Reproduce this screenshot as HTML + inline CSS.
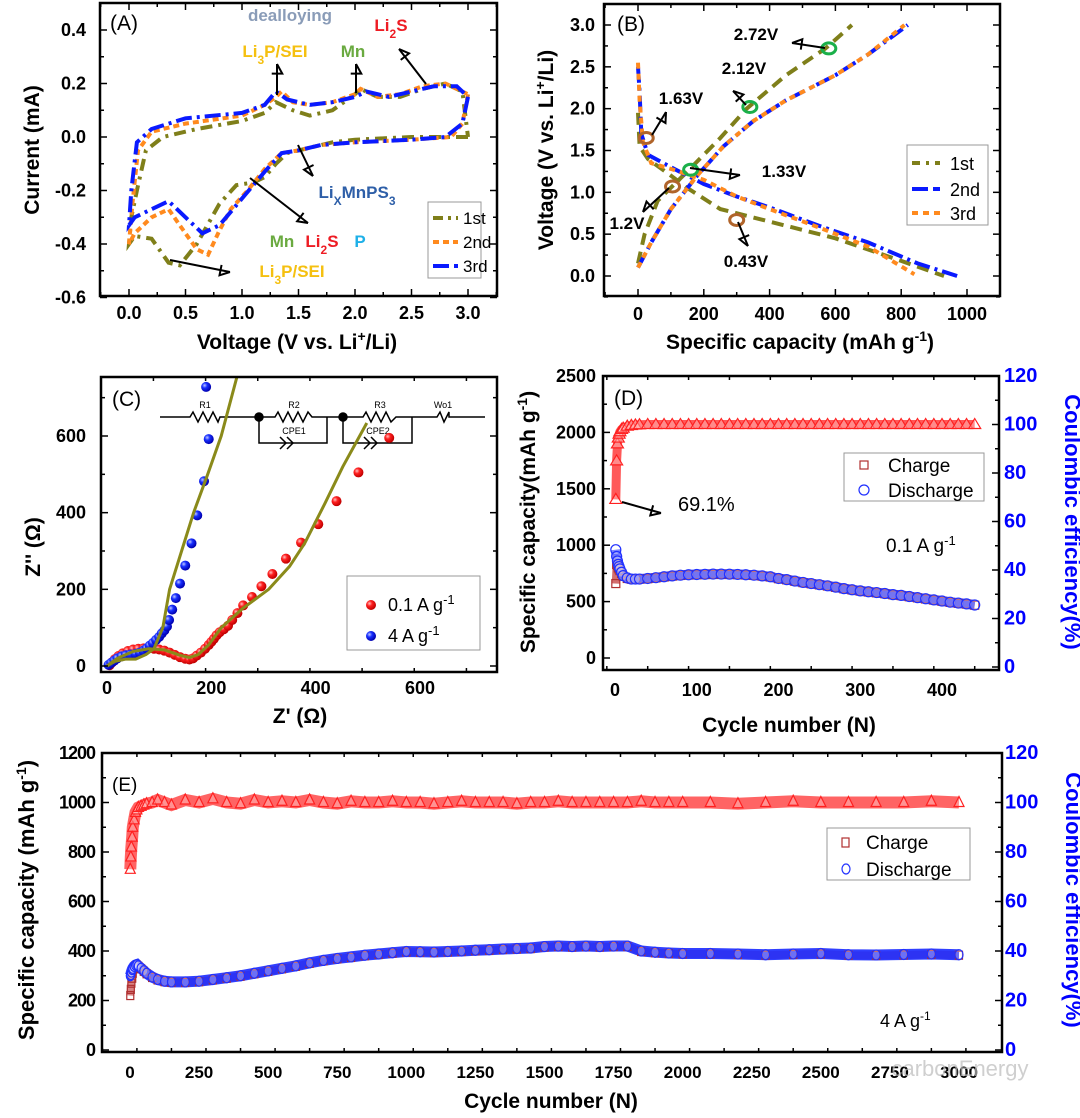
<!DOCTYPE html>
<html><head><meta charset="utf-8">
<style>
html,body{margin:0;padding:0;background:#fff;}
svg{display:block;font-family:"Liberation Sans",Arial,sans-serif;}
</style></head>
<body>
<svg id="fig" width="1080" height="1118" viewBox="0 0 1080 1118" xmlns="http://www.w3.org/2000/svg">
<defs>
<radialGradient id="gRed" cx="35%" cy="35%" r="65%"><stop offset="0" stop-color="#ffc0c0"/><stop offset="0.4" stop-color="#ff2020"/><stop offset="1" stop-color="#c00000"/></radialGradient>
<radialGradient id="gBlue" cx="35%" cy="35%" r="65%"><stop offset="0" stop-color="#c0c8ff"/><stop offset="0.4" stop-color="#1830ff"/><stop offset="1" stop-color="#0000b0"/></radialGradient>
<clipPath id="clipA"><rect x="100" y="3" width="397" height="293"/></clipPath>
<clipPath id="clipB"><rect x="604" y="4" width="396" height="292"/></clipPath>
<clipPath id="clipC"><rect x="101" y="377" width="396" height="295"/></clipPath>
<clipPath id="clipD"><rect x="603" y="376" width="396" height="294"/></clipPath>
<clipPath id="clipE"><rect x="102" y="753" width="900" height="299"/></clipPath>
</defs>
</svg>
<script>
// ---------- Panel A data (CV) ----------
const cv1V = [3.0,2.5,2.0,1.8,1.6,1.4,1.3,1.2,1.1,0.95,0.8,0.6,0.45,0.35,0.2,0.05,0.0,0.02,0.07,0.15,0.3,0.6,1.0,1.2,1.3,1.35,1.45,1.6,1.8,2.0,2.05,2.2,2.4,2.6,2.8,2.95,3.0];
const cv1I = [0.0,0.0,-0.01,-0.02,-0.04,-0.06,-0.1,-0.15,-0.17,-0.18,-0.25,-0.4,-0.48,-0.47,-0.38,-0.37,-0.4,-0.3,-0.2,-0.05,0.0,0.03,0.06,0.09,0.13,0.12,0.1,0.08,0.1,0.16,0.18,0.15,0.15,0.18,0.2,0.17,0.0];
const cv2V = [3.0,2.95,2.85,2.5,2.0,1.7,1.5,1.35,1.2,1.05,0.9,0.8,0.7,0.6,0.45,0.35,0.2,0.05,0.0,0.03,0.08,0.2,0.5,1.0,1.2,1.3,1.35,1.45,1.6,1.8,2.0,2.05,2.2,2.4,2.6,2.8,3.0];
const cv2I = [0.16,0.05,0.0,-0.01,-0.02,-0.03,-0.05,-0.06,-0.12,-0.2,-0.27,-0.35,-0.44,-0.42,-0.33,-0.27,-0.3,-0.36,-0.4,-0.25,-0.05,0.02,0.05,0.08,0.12,0.15,0.17,0.13,0.12,0.13,0.16,0.18,0.15,0.16,0.19,0.2,0.16];
const cv3V = [3.0,2.95,2.8,2.5,2.0,1.7,1.5,1.35,1.2,1.0,0.8,0.65,0.5,0.35,0.2,0.05,0.0,0.02,0.07,0.2,0.5,1.0,1.2,1.3,1.4,1.6,1.8,2.0,2.1,2.3,2.5,2.7,2.9,3.0];
const cv3I = [0.15,0.05,0.0,-0.01,-0.02,-0.03,-0.05,-0.06,-0.13,-0.23,-0.33,-0.36,-0.3,-0.24,-0.27,-0.3,-0.33,-0.2,-0.02,0.03,0.07,0.09,0.12,0.17,0.14,0.12,0.13,0.15,0.17,0.15,0.17,0.19,0.19,0.15];
// ---------- Panel B data (GCD) ----------
const d1Cap = [0,5,30,100,150,250,400,600,800,930];
const d1V = [1.95,1.55,1.4,1.2,1.05,0.8,0.65,0.45,0.18,0.0];
const c1Cap = [0,20,60,150,250,330,450,570,650];
const c1V = [0.15,0.5,0.9,1.25,1.65,2.0,2.4,2.72,3.0];
const d2Cap = [0,5,10,30,100,200,300,400,550,700,850,970];
const d2V = [2.5,2.2,1.7,1.45,1.3,1.1,0.95,0.82,0.6,0.4,0.15,0.0];
const c2Cap = [0,40,100,180,260,350,450,600,700,820];
const c2V = [0.1,0.4,0.8,1.2,1.55,1.85,2.1,2.4,2.65,3.0];
const d3Cap = [0,5,15,40,100,200,300,400,550,700,840];
const d3V = [2.55,2.1,1.6,1.35,1.28,1.15,0.95,0.8,0.58,0.35,0.02];
const c3Cap = [0,40,100,180,260,350,450,600,700,810];
const c3V = [0.1,0.4,0.8,1.2,1.55,1.85,2.1,2.4,2.65,3.0];
const greenCap = [160,340,580];
const greenV = [1.27,2.02,2.72];
const brownCap = [25,105,300];
const brownV = [1.65,1.07,0.67];
// ---------- Panel C data (EIS) ----------
const redZr = [5,10,15,22,30,40,50,60,70,80,90,100,110,120,130,140,150,158,165,172,180,188,195,200,205,210,216,224,232,240,250,261,278,296,317,343,372,405,440,482,541];
const redZi = [2,10,18,26,33,39,43,45,46,46,45,43,40,35,29,23,19,17,20,27,35,45,55,63,71,80,88,96,105,120,138,158,180,208,240,280,322,370,430,505,595];
const blueZr = [3,8,14,20,28,36,45,55,63,70,76,82,88,94,100,105,110,115,119,125,132,140,150,162,173,186,195,190];
const blueZi = [3,8,14,20,25,28,30,32,35,40,46,53,60,68,76,85,93,103,120,147,177,215,262,320,393,482,592,728];
const fitBlueZr = [0,15,35,55,75,90,107,120,143,166,193,219,249];
const fitBlueZi = [0,12,18,18,30,45,100,200,300,400,500,600,754];
const fitRedZr = [0,20,50,80,110,140,158,175,195,219,260,310,350,379,418,452,498];
const fitRedZi = [0,20,38,45,42,28,22,30,55,100,150,200,260,320,425,520,634];
// ---------- Panel D data ----------
const cyclesD = [1,2,3,4,5,6,8,10,15,20,25,30,40,50,60,70,80,90,100,110,120,130,140,150,160,170,180,190,200,210,220,230,240,250,260,270,280,290,300,310,320,330,340,350,360,370,380,390,400,410,420,430,440];
const dischargeD = [960,900,860,830,810,790,760,730,710,700,700,700,705,712,720,728,734,738,740,742,744,744,743,741,738,734,728,720,705,695,682,670,660,650,640,628,615,605,595,587,580,572,562,555,545,535,525,515,505,495,487,480,470];
const chargeD = [660,830,820,800,790,775,750,725,705,698,698,700,703,710,718,726,732,736,738,740,742,742,741,739,736,732,726,718,703,693,680,668,658,648,638,626,613,603,593,585,578,570,560,553,543,533,523,513,503,493,485,478,468];
const ceD = [69.1,85,92,94.4,96,97,98,98.5,99.3,99.6,99.8,99.9,100,100,100,100,100,100,100,100,100,100,100,100,100,100,100,100,100,100,100,100,100,100,100,100,100,100,100,100,100,100,100,100,100,100,100,100,100,100,100,100,100];
// ---------- Panel E data ----------
const cyclesE = [1,3,5,8,10,15,20,25,30,40,50,60,80,100,125,150,200,250,300,350,400,450,500,550,600,650,700,750,800,850,900,950,1000,1050,1100,1150,1200,1250,1300,1350,1400,1450,1500,1550,1600,1650,1700,1750,1800,1850,1900,1950,2000,2100,2200,2300,2400,2500,2600,2700,2800,2900,3000];
const dischargeE = [300,305,315,325,330,338,343,345,340,330,320,310,295,285,278,275,275,278,285,292,300,310,320,330,340,352,362,370,376,383,388,393,398,397,396,398,400,403,405,408,410,412,418,420,418,420,418,420,420,400,395,392,390,390,388,385,388,390,385,384,386,388,385];
const chargeE = [220,245,270,290,310,330,340,343,338,328,318,308,293,283,276,273,273,276,283,290,298,308,318,328,338,350,360,368,374,381,386,391,396,395,394,396,398,401,403,406,408,410,416,418,416,418,416,418,418,398,393,390,388,388,386,383,386,388,383,382,384,386,383];
const ceE = [73,78,82,86,90,93,96,97,98,98.5,99,99.5,100,101,100,99,101,100,101.5,100,99.5,101,100,100.5,100,101,100,99.5,100.5,100,100,100.5,100,100,99.5,100,100.5,100,100,100,99.5,100,100,100.5,100,100,100,100,100,100.5,100,100,100,100,99.5,100,100.5,100,100,100,100,100.5,100];

// ---------- helpers ----------
const NS = 'http://www.w3.org/2000/svg';
const svg = document.getElementById('fig');
function mk(tag, attrs, name, parent){
  const el = document.createElementNS(NS, tag);
  for (const k in attrs) el.setAttribute(k, attrs[k]);
  
  
  (parent || svg).appendChild(el);
  return el;
}
function T(x, y, html, attrs, name, parent){
  const a = Object.assign({x:x, y:y, 'text-anchor':'middle', 'font-size':18, 'font-weight':'bold', fill:'#000'}, attrs || {});
  const el = mk('text', a, name, parent);
  el.innerHTML = html;
  return el;
}
function lin(d0, d1, p0, p1){ return v => p0 + (v - d0) * (p1 - p0) / (d1 - d0); }
function pts(xs, ys, fx, fy){ const n = Math.min(xs.length, ys.length); let s=''; for(let i=0;i<n;i++) s += fx(xs[i]).toFixed(1)+','+fy(ys[i]).toFixed(1)+' '; return s; }
function arrow(x1,y1,x2,y2,name){
  const g = mk('g', {}, name);
  mk('line', {x1:x1,y1:y1,x2:x2,y2:y2,stroke:'#000','stroke-width':2}, 'arrow-shaft', g);
  const a = Math.atan2(y2-y1, x2-x1), L=11, W=0.5;
  const p = `${x2},${y2} ${x2-L*Math.cos(a-W)},${y2-L*Math.sin(a-W)} ${x2-L*Math.cos(a+W)},${y2-L*Math.sin(a+W)}`;
  mk('polyline', {points:p, fill:'none', stroke:'#000','stroke-width':2}, 'arrow-head', g);
}
function box(x0,y0,x1,y1,name){
  mk('rect', {x:x0,y:y0,width:x1-x0,height:y1-y0,fill:'none',stroke:'#000','stroke-width':2.5}, name);
}
function xTicks(fx, y0, y1, lo, hi, major, minor, labels, ly, name, fs){
  const g = mk('g', {}, name);
  for (let v=lo; v<=hi+1e-9; v+=minor){
    const isMaj = Math.abs(v/major - Math.round(v/major)) < 1e-6;
    const L = isMaj ? 7 : 4, x = fx(v);
    mk('line', {x1:x,x2:x,y1:y1,y2:y1-L,stroke:'#000','stroke-width':1.5}, 'x-tick', g);
    mk('line', {x1:x,x2:x,y1:y0,y2:y0+L,stroke:'#000','stroke-width':1.5}, 'x-tick-top', g);
  }
  labels.forEach(l => T(fx(l.v), ly, l.t, {'font-size':fs||18}, 'x-tick-label', g));
}
function yTicks(fy, x0, x1, lo, hi, major, minor, side, name){
  const g = mk('g', {}, name);
  for (let v=lo; v<=hi+1e-9; v+=minor){
    const isMaj = Math.abs(v/major - Math.round(v/major)) < 1e-6;
    const L = isMaj ? 7 : 4, y = fy(v);
    if (side !== 'right') mk('line', {x1:x0,x2:x0+L,y1:y,y2:y,stroke:'#000','stroke-width':1.5}, 'y-tick', g);
    if (side !== 'left') mk('line', {x1:x1,x2:x1-L,y1:y,y2:y,stroke:'#000','stroke-width':1.5}, 'y-tick-right', g);
  }
}
function yLabels(fy, vals, texts, x, anchor, attrs, name){
  const g = mk('g', {}, name);
  vals.forEach((v,i) => T(x, fy(v)+6, texts[i], Object.assign({'text-anchor':anchor}, attrs||{}), 'y-tick-label', g));
}

// ================= Panel A =================
const xA = lin(0,3,129,468), yA = lin(0,0.4,137,30);
const gA = mk('g', {'clip-path':'url(#clipA)'}, 'panel-a-plot');
mk('polyline', {points:pts(cv1V,cv1I,xA,yA), fill:'none', stroke:'#7f7f1a','stroke-width':4,'stroke-dasharray':'12,6,3,6'}, 'cv-cycle-1', gA);
mk('polyline', {points:pts(cv2V,cv2I,xA,yA), fill:'none', stroke:'#ff8a1e','stroke-width':4,'stroke-dasharray':'6,4'}, 'cv-cycle-2', gA);
mk('polyline', {points:pts(cv3V,cv3I,xA,yA), fill:'none', stroke:'#0a1aff','stroke-width':4,'stroke-dasharray':'16,5,3,5'}, 'cv-cycle-3', gA);
box(100,3,497,296,'panel-a-frame');
xTicks(xA, 3, 296, -0.25, 3.25, 0.5, 0.25, [0,0.5,1,1.5,2,2.5,3].map(v=>({v:v,t:v.toFixed(1)})), 319, 'panel-a-x-axis');
yTicks(yA, 100, 497, -0.6, 0.5, 0.2, 0.1, 'both', 'panel-a-y-ticks');
yLabels(yA, [0.4,0.2,0,-0.2,-0.4,-0.6], ['0.4','0.2','0.0','-0.2','-0.4','-0.6'], 86, 'end', {}, 'panel-a-y-labels');
T(297, 349, 'Voltage (V vs. Li<tspan baseline-shift="super" font-size="14">+</tspan>/Li)', {'font-size':21}, 'panel-a-x-title');
T(0, 0, 'Current (mA)', {'font-size':21, transform:'translate(39,150) rotate(-90)'}, 'panel-a-y-title');
T(110, 30, '(A)', {'font-weight':'normal','font-size':21,'text-anchor':'start'}, 'panel-a-label');
T(290, 21, 'dealloying', {fill:'#8a9cb8','font-size':17}, 'annot-dealloying');
T(391, 31, 'Li<tspan baseline-shift="sub" font-size="12">2</tspan>S', {fill:'#ee1c24','font-size':17}, 'annot-li2s-top');
T(275, 57, 'Li<tspan baseline-shift="sub" font-size="12">3</tspan>P/SEI', {fill:'#f5c010','font-size':17}, 'annot-li3p-top');
T(353, 57, 'Mn', {fill:'#6aaa40','font-size':17}, 'annot-mn-top');
arrow(277,95,277,64,'arrow-li3p-top');
arrow(356,93,356,64,'arrow-mn-top');
arrow(426,84,399,49,'arrow-li2s-top');
T(357, 198, 'Li<tspan baseline-shift="sub" font-size="12">X</tspan>MnPS<tspan baseline-shift="sub" font-size="12">3</tspan>', {fill:'#2e5fa8','font-size':17}, 'annot-lixmnps3');
arrow(298,145,313,176,'arrow-lixmnps3');
arrow(250,178,308,223,'arrow-mn-li2s-p');
T(282, 247, 'Mn', {fill:'#6aaa40','font-size':17}, 'annot-mn-bottom');
T(322, 247, 'Li<tspan baseline-shift="sub" font-size="12">2</tspan>S', {fill:'#ee1c24','font-size':17}, 'annot-li2s-bottom');
T(360, 247, 'P', {fill:'#1eb0e8','font-size':17}, 'annot-p');
arrow(170,260,230,272,'arrow-li3p-bottom');
T(292, 277, 'Li<tspan baseline-shift="sub" font-size="12">3</tspan>P/SEI', {fill:'#f5c010','font-size':17}, 'annot-li3p-bottom');
mk('rect', {x:428,y:202,width:53,height:76,fill:'#fff',stroke:'#999','stroke-width':1}, 'panel-a-legend-box');
const lgA = mk('g', {}, 'panel-a-legend');
[['#7f7f1a','10,5,3,5','1st',218],['#ff8a1e','6,4','2nd',242],['#0a1aff','16,5','3rd',266]].forEach(r=>{
  mk('line', {x1:433,x2:458,y1:r[3],y2:r[3],stroke:r[0],'stroke-width':4,'stroke-dasharray':r[1]}, 'legend-swatch', lgA);
  T(463, r[3]+6, r[2], {'text-anchor':'start','font-weight':'normal','font-size':17}, 'legend-label', lgA);
});

// ================= Panel B =================
const xB = lin(0,1000,638,967), yB = lin(0,3,276,25);
const gB = mk('g', {'clip-path':'url(#clipB)'}, 'panel-b-plot');
const ol = {stroke:'#7f7f1a','stroke-width':4,'stroke-dasharray':'12,7',fill:'none'};
const bl = {stroke:'#0a1aff','stroke-width':4,'stroke-dasharray':'16,5,3,5',fill:'none'};
const orr = {stroke:'#ff8a1e','stroke-width':4,'stroke-dasharray':'6,5',fill:'none'};
mk('polyline', Object.assign({points:pts(d1Cap,d1V,xB,yB)}, ol), 'discharge-1st', gB);
mk('polyline', Object.assign({points:pts(c1Cap,c1V,xB,yB)}, ol), 'charge-1st', gB);
mk('polyline', Object.assign({points:pts(d2Cap,d2V,xB,yB)}, bl), 'discharge-2nd', gB);
mk('polyline', Object.assign({points:pts(c2Cap,c2V,xB,yB)}, bl), 'charge-2nd', gB);
mk('polyline', Object.assign({points:pts(d3Cap,d3V,xB,yB)}, orr), 'discharge-3rd', gB);
mk('polyline', Object.assign({points:pts(c3Cap,c3V,xB,yB)}, orr), 'charge-3rd', gB);
greenCap.forEach((c,i)=>mk('ellipse', {cx:xB(c),cy:yB(greenV[i]),rx:7,ry:5.5,fill:'none',stroke:'#1ab04a','stroke-width':3}, 'marker-green', gB));
brownCap.forEach((c,i)=>mk('ellipse', {cx:xB(c),cy:yB(brownV[i]),rx:7,ry:5.5,fill:'none',stroke:'#b0642a','stroke-width':3}, 'marker-brown', gB));
box(604,4,1000,296,'panel-b-frame');
xTicks(xB, 4, 296, -100, 1000, 200, 100, [0,200,400,600,800,1000].map(v=>({v:v,t:String(v)})), 320, 'panel-b-x-axis');
yTicks(yB, 604, 1000, -0.25, 3.25, 0.5, 0.25, 'both', 'panel-b-y-ticks');
yLabels(yB, [3,2.5,2,1.5,1,0.5,0], ['3.0','2.5','2.0','1.5','1.0','0.5','0.0'], 595, 'end', {}, 'panel-b-y-labels');
T(800, 349, 'Specific capacity (mAh  g<tspan baseline-shift="super" font-size="14">-1</tspan>)', {'font-size':21}, 'panel-b-x-title');
T(0, 0, 'Voltage (V vs. Li<tspan baseline-shift="super" font-size="14">+</tspan>/Li)', {'font-size':21, transform:'translate(553,150) rotate(-90)'}, 'panel-b-y-title');
T(617, 31, '(B)', {'font-weight':'normal','font-size':21,'text-anchor':'start'}, 'panel-b-label');
T(756, 40, '2.72V', {'font-size':17}, 'annot-2-72v');
arrow(825,48,792,43,'arrow-2-72v');
T(744, 74, '2.12V', {'font-size':17}, 'annot-2-12v');
arrow(746,105,733,91,'arrow-2-12v');
T(681, 104, '1.63V', {'font-size':17}, 'annot-1-63v');
arrow(652,135,666,112,'arrow-1-63v');
T(784, 177, '1.33V', {'font-size':17}, 'annot-1-33v');
arrow(690,168,740,175,'arrow-1-33v');
T(627, 229, '1.2V', {'font-size':17}, 'annot-1-2v');
arrow(669,188,643,212,'arrow-1-2v');
T(746, 267, '0.43V', {'font-size':17}, 'annot-0-43v');
arrow(738,222,748,246,'arrow-0-43v');
mk('rect', {x:907,y:145,width:81,height:80,fill:'#fff',stroke:'#999','stroke-width':1}, 'panel-b-legend-box');
const lgB = mk('g', {}, 'panel-b-legend');
[['#7f7f1a','8,6,3,6','1st',163],['#0a1aff','16,5','2nd',189],['#ff8a1e','6,5','3rd',213]].forEach(r=>{
  mk('line', {x1:912,x2:940,y1:r[3],y2:r[3],stroke:r[0],'stroke-width':4,'stroke-dasharray':r[1]}, 'legend-swatch', lgB);
  T(950, r[3]+7, r[2], {'text-anchor':'start','font-weight':'normal','font-size':18}, 'legend-label', lgB);
});

// ================= Panel C =================
const xC = lin(0,600,107,420), yC = lin(0,600,666,436);
const gC = mk('g', {'clip-path':'url(#clipC)'}, 'panel-c-plot');
const cc = mk('g', {stroke:'#000','stroke-width':1.5,fill:'none'}, 'equivalent-circuit', gC);
mk('polyline', {points:'160,417 190,417 193,412 198,422 203,412 208,422 213,412 218,422 220,417 259,417'}, 'circuit-r1', cc);
mk('polyline', {points:'259,417 275,417 278,412 283,422 288,412 293,422 298,412 303,422 308,412 312,417 327,417 343,417'}, 'circuit-r2', cc);
mk('polyline', {points:'259,417 259,443 327,443 327,417'}, 'circuit-cpe1-loop', cc);
mk('polyline', {points:'343,417 363,417 366,412 371,422 376,412 381,422 386,412 391,422 396,417 412,417 437,417 440,412 444,422 449,412 449,417 485,417'}, 'circuit-r3-wo1', cc);
mk('polyline', {points:'343,417 343,443 412,443 412,417'}, 'circuit-cpe2-loop', cc);
mk('polyline', {points:'280,437 286,443 280,449'}, 'circuit-cpe1-symbol', cc);
mk('polyline', {points:'287,437 293,443 287,449'}, 'circuit-cpe1-symbol2', cc);
mk('polyline', {points:'364,437 370,443 364,449'}, 'circuit-cpe2-symbol', cc);
mk('polyline', {points:'371,437 377,443 371,449'}, 'circuit-cpe2-symbol2', cc);
mk('circle', {cx:259,cy:417,r:4,fill:'#000'}, 'circuit-node-1', cc);
mk('circle', {cx:343,cy:417,r:4,fill:'#000'}, 'circuit-node-2', cc);
const cl = {'font-weight':'normal','font-size':9};
T(205,408,'R1',cl,'circuit-label-r1',gC); T(294,408,'R2',cl,'circuit-label-r2',gC); T(380,408,'R3',cl,'circuit-label-r3',gC);
T(443,408,'Wo1',cl,'circuit-label-wo1',gC); T(294,434,'CPE1',cl,'circuit-label-cpe1',gC); T(378,434,'CPE2',cl,'circuit-label-cpe2',gC);
const nr = Math.min(redZr.length, redZi.length);
for (let i=0;i<nr;i++) mk('circle', {cx:xC(redZr[i]),cy:yC(redZi[i]),r:5,fill:'url(#gRed)'}, 'point-0-1-a-g', gC);
const nb = Math.min(blueZr.length, blueZi.length);
for (let i=0;i<nb;i++) mk('circle', {cx:xC(blueZr[i]),cy:yC(blueZi[i]),r:5,fill:'url(#gBlue)'}, 'point-4-a-g', gC);
mk('polyline', {points:pts(fitBlueZr,fitBlueZi,xC,yC),fill:'none',stroke:'#8a8a1a','stroke-width':3}, 'fit-4-a-g', gC);
mk('polyline', {points:pts(fitRedZr,fitRedZi,xC,yC),fill:'none',stroke:'#8a8a1a','stroke-width':3}, 'fit-0-1-a-g', gC);
box(101,377,497,672,'panel-c-frame');
xTicks(xC, 377, 672, -11, 752, 200, 100, [0,200,400,600].map(v=>({v:v,t:String(v)})), 694, 'panel-c-x-axis');
yTicks(yC, 101, 497, 0, 700, 200, 100, 'both', 'panel-c-y-ticks');
yLabels(yC, [0,200,400,600], ['0','200','400','600'], 86, 'end', {}, 'panel-c-y-labels');
T(300, 723, 'Z\' (Ω)', {'font-size':21}, 'panel-c-x-title');
T(0, 0, 'Z\'\' (Ω)', {'font-size':21, transform:'translate(40,547) rotate(-90)'}, 'panel-c-y-title');
T(112, 406, '(C)', {'font-weight':'normal','font-size':21,'text-anchor':'start'}, 'panel-c-label');
mk('rect', {x:347,y:576,width:133,height:74,fill:'#fff',stroke:'#999','stroke-width':1}, 'panel-c-legend-box');
const lgC = mk('g', {}, 'panel-c-legend');
mk('circle', {cx:371,cy:605,r:5,fill:'url(#gRed)'}, 'legend-swatch', lgC);
T(388, 611, '0.1 A g<tspan baseline-shift="super" font-size="13">-1</tspan>', {'text-anchor':'start','font-weight':'normal','font-size':18}, 'legend-label', lgC);
mk('circle', {cx:371,cy:636,r:5,fill:'url(#gBlue)'}, 'legend-swatch', lgC);
T(388, 642, '4 A g<tspan baseline-shift="super" font-size="13">-1</tspan>', {'text-anchor':'start','font-weight':'normal','font-size':18}, 'legend-label', lgC);

// ================= Panel D =================
const xD = lin(0,400,615,942), yD = lin(0,2500,658,376), yDr = lin(0,120,667,376);
const gD = mk('g', {'clip-path':'url(#clipD)'}, 'panel-d-plot');
mk('polyline', {points:pts(cyclesD,ceD,xD,yDr),fill:'none',stroke:'#ff3030','stroke-width':9,'stroke-opacity':0.8}, 'ce-band', gD);
for (let i=0;i<cyclesD.length;i++){ const x=xD(cyclesD[i]), y=yDr(ceD[i]);
  mk('polygon', {points:`${x},${y-6} ${x-6},${y+4} ${x+6},${y+4}`,fill:'#fff','fill-opacity':0.3,stroke:'#ff2020','stroke-width':1.2}, 'ce-marker', gD); }
mk('polyline', {points:pts(cyclesD,chargeD,xD,yD),fill:'none',stroke:'#c03030','stroke-width':8,'stroke-opacity':0.7}, 'charge-band', gD);
mk('polyline', {points:pts(cyclesD,dischargeD,xD,yD),fill:'none',stroke:'#2030ff','stroke-width':10,'stroke-opacity':0.85}, 'discharge-band', gD);
for (let i=0;i<cyclesD.length;i++) mk('rect', {x:xD(cyclesD[i])-4,y:yD(chargeD[i])-4,width:8,height:8,fill:'none',stroke:'#b03030','stroke-width':1.2}, 'charge-marker', gD);
for (let i=0;i<cyclesD.length;i++) mk('circle', {cx:xD(cyclesD[i]),cy:yD(dischargeD[i]),r:5,fill:'#fff','fill-opacity':0.3,stroke:'#2030ff','stroke-width':1.2}, 'discharge-marker', gD);
box(603,376,999,670,'panel-d-frame');
xTicks(xD, 376, 670, -10, 470, 100, 50, [0,100,200,300,400].map(v=>({v:v,t:String(v)})), 696, 'panel-d-x-axis');
yTicks(yD, 603, 999, 0, 2500, 500, 250, 'left', 'panel-d-y-ticks');
yTicks(yDr, 603, 999, 0, 120, 20, 10, 'right', 'panel-d-y2-ticks');
yLabels(yD, [0,500,1000,1500,2000,2500], ['0','500','1000','1500','2000','2500'], 596, 'end', {}, 'panel-d-y-labels');
yLabels(yDr, [0,20,40,60,80,100,120], ['0','20','40','60','80','100','120'], 1004, 'start', {fill:'#0000ff','font-size':20}, 'panel-d-y2-labels');
T(789, 732, 'Cycle number (N)', {'font-size':21}, 'panel-d-x-title');
T(0, 0, 'Specific capacity(mAh g<tspan baseline-shift="super" font-size="14">-1</tspan>)', {'font-size':21, transform:'translate(535,522) rotate(-90)'}, 'panel-d-y-title');
T(0, 0, 'Coulombic efficiency(%)', {'font-size':22, fill:'#0000ff', transform:'translate(1065,522) rotate(90)'}, 'panel-d-y2-title');
T(614, 405, '(D)', {'font-weight':'normal','font-size':21,'text-anchor':'start'}, 'panel-d-label');
T(678, 511, '69.1%', {'font-weight':'normal','font-size':20,'text-anchor':'start'}, 'annot-69-1');
arrow(622,502,661,513,'arrow-69-1');
T(886, 552, '0.1 A g<tspan baseline-shift="super" font-size="13">-1</tspan>', {'font-weight':'normal','font-size':19,'text-anchor':'start'}, 'annot-0-1-a-g');
mk('rect', {x:844,y:453,width:140,height:48,fill:'#fff',stroke:'#999','stroke-width':1}, 'panel-d-legend-box');
const lgD = mk('g', {}, 'panel-d-legend');
mk('rect', {x:860,y:461,width:8,height:8,fill:'none',stroke:'#b03030','stroke-width':1.2}, 'legend-swatch', lgD);
T(888, 472, 'Charge', {'text-anchor':'start','font-weight':'normal','font-size':19}, 'legend-label', lgD);
mk('circle', {cx:864,cy:490,r:5,fill:'none',stroke:'#2030ff','stroke-width':1.2}, 'legend-swatch', lgD);
T(888, 497, 'Discharge', {'text-anchor':'start','font-weight':'normal','font-size':19}, 'legend-label', lgD);

// ================= Panel E =================
const xE = lin(0,3000,130,959), yE = lin(0,1200,1050,753), yEr = lin(0,120,1050,753);
const gE = mk('g', {'clip-path':'url(#clipE)'}, 'panel-e-plot');
mk('polyline', {points:pts(cyclesE,ceE,xE,yEr),fill:'none',stroke:'#ff3030','stroke-width':12,'stroke-opacity':0.75}, 'ce-band', gE);
for (let i=0;i<cyclesE.length;i++){ const x=xE(cyclesE[i]), y=yEr(ceE[i]);
  mk('polygon', {points:`${x},${y-6} ${x-5},${y+4} ${x+5},${y+4}`,fill:'#fff','fill-opacity':0.3,stroke:'#ff2020','stroke-width':1.2}, 'ce-marker', gE); }
mk('polyline', {points:pts(cyclesE,chargeE,xE,yE),fill:'none',stroke:'#c03030','stroke-width':8,'stroke-opacity':0.6}, 'charge-band', gE);
mk('polyline', {points:pts(cyclesE,dischargeE,xE,yE),fill:'none',stroke:'#1a2aff','stroke-width':11,'stroke-opacity':0.9}, 'discharge-band', gE);
for (let i=0;i<cyclesE.length;i++) mk('rect', {x:xE(cyclesE[i])-3.5,y:yE(chargeE[i])-4,width:7,height:8,fill:'none',stroke:'#b03030','stroke-width':1.2}, 'charge-marker', gE);
for (let i=0;i<cyclesE.length;i++) mk('ellipse', {cx:xE(cyclesE[i]),cy:yE(dischargeE[i]),rx:4,ry:5,fill:'#fff','fill-opacity':0.3,stroke:'#2030ff','stroke-width':1.2}, 'discharge-marker', gE);
box(102,753,1002,1052,'panel-e-frame');
xTicks(xE, 753, 1052, -100, 3100, 250, 125, [0,250,500,750,1000,1250,1500,1750,2000,2250,2500,2750,3000].map(v=>({v:v,t:String(v)})), 1078, 'panel-e-x-axis', 17);
yTicks(yE, 102, 1002, 0, 1200, 200, 100, 'left', 'panel-e-y-ticks');
yTicks(yEr, 102, 1002, 0, 120, 20, 10, 'right', 'panel-e-y2-ticks');
yLabels(yE, [0,200,400,600,800,1000,1200], ['0','200','400','600','800','1000','1200'], 95, 'end', {'letter-spacing':'-1'}, 'panel-e-y-labels');
yLabels(yEr, [0,20,40,60,80,100,120], ['0','20','40','60','80','100','120'], 1005, 'start', {fill:'#0000ff','font-size':20}, 'panel-e-y2-labels');
T(551, 1108, 'Cycle number (N)', {'font-size':21}, 'panel-e-x-title');
T(0, 0, 'Specific capacity (mAh g<tspan baseline-shift="super" font-size="14">-1</tspan>)', {'font-size':22, transform:'translate(34,900) rotate(-90)'}, 'panel-e-y-title');
T(0, 0, 'Coulombic efficiency(%)', {'font-size':22, fill:'#0000ff', transform:'translate(1066,900) rotate(90)'}, 'panel-e-y2-title');
T(112, 791, '(E)', {'font-weight':'normal','font-size':19,'text-anchor':'start'}, 'panel-e-label');
T(880, 1027, '4 A g<tspan baseline-shift="super" font-size="12">-1</tspan>', {'font-weight':'normal','font-size':18,'text-anchor':'start'}, 'annot-4-a-g');
mk('rect', {x:827,y:828,width:143,height:52,fill:'#fff',stroke:'#999','stroke-width':1}, 'panel-e-legend-box');
const lgE = mk('g', {}, 'panel-e-legend');
mk('rect', {x:842,y:838,width:7,height:9,fill:'none',stroke:'#b03030','stroke-width':1.2}, 'legend-swatch', lgE);
T(866, 849, 'Charge', {'text-anchor':'start','font-weight':'normal','font-size':19}, 'legend-label', lgE);
mk('ellipse', {cx:846,cy:869,rx:4,ry:5,fill:'none',stroke:'#2030ff','stroke-width':1.2}, 'legend-swatch', lgE);
T(866, 876, 'Discharge', {'text-anchor':'start','font-weight':'normal','font-size':19}, 'legend-label', lgE);
T(960, 1076, 'carbonEnergy', {'font-weight':'normal','font-size':22,fill:'#bbb','fill-opacity':0.7}, 'watermark');
</script>
</body></html>
